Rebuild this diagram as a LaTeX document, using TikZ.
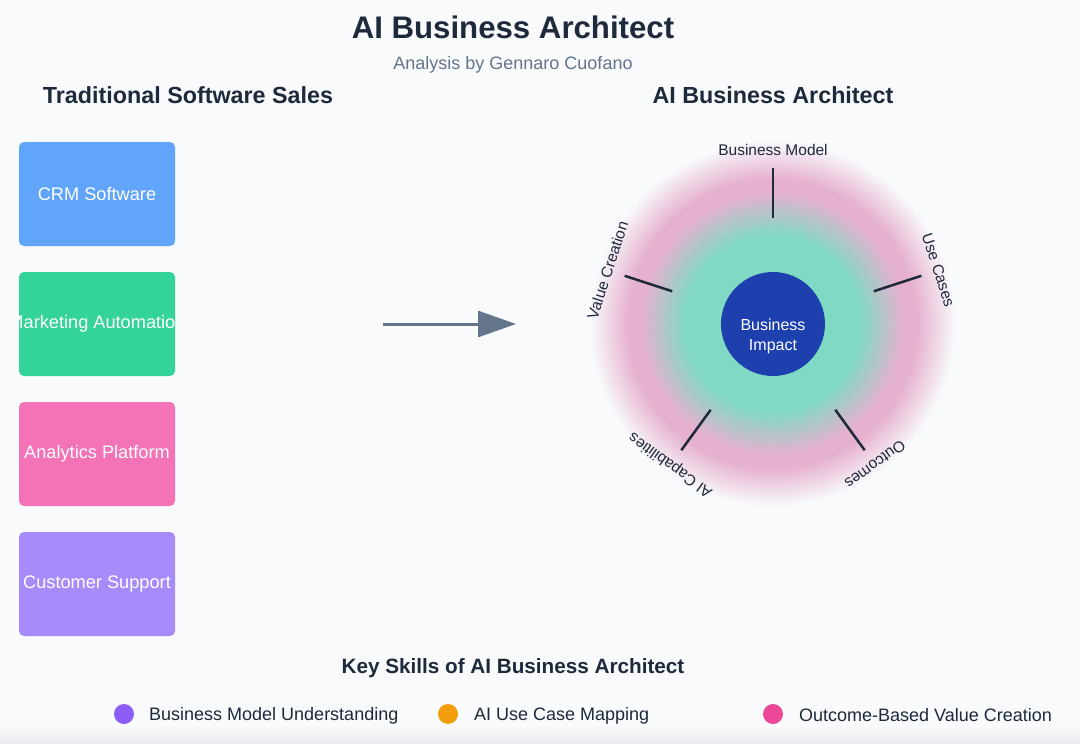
\documentclass[tikz,border=0pt]{standalone}
\usepackage{fontspec}
\setmainfont{Liberation Sans}
\usetikzlibrary{calc,arrows.meta}
\definecolor{bg}{HTML}{F8FAFC}
\definecolor{ink}{HTML}{1E293B}
\definecolor{slate}{HTML}{64748B}
\definecolor{boxblue}{HTML}{60A5FA}
\definecolor{boxgreen}{HTML}{34D399}
\definecolor{boxpink}{HTML}{F472B6}
\definecolor{boxpurple}{HTML}{A78BFA}
\definecolor{glowgreen}{HTML}{80DAC3}
\definecolor{glowpink}{HTML}{E6B1CF}
\definecolor{core}{HTML}{1E40AF}
\definecolor{dotpurple}{HTML}{8B5CF6}
\definecolor{dotorange}{HTML}{F59E0B}
\definecolor{dotpink}{HTML}{EC4899}
\definecolor{bottomgray}{HTML}{E9EBEE}
\begin{document}
\begin{tikzpicture}[x=1pt,y=-1pt,
  toolbox/.style={rounded corners=5pt, minimum width=156pt, minimum height=104pt, inner sep=0pt},
  boxtext/.style={text=white, font=\fontsize{18.2}{21}\selectfont},
  spoke/.style={draw=ink, line width=2.5pt},
  ringlabel/.style={text=ink, font=\fontsize{15.5}{18}\selectfont, inner sep=0pt},
  legtext/.style={text=ink, font=\fontsize{18}{21}\selectfont, anchor=west, inner sep=0pt},
  legdot/.style={circle, minimum size=20pt, inner sep=0pt}]
\useasboundingbox (0,0) rectangle (1080,744);
\fill[bg] (0,0) rectangle (1080,744);
\shade[top color=bg, bottom color=bottomgray] (0,726) rectangle (1080,744);

% titles
\node[text=ink, font=\bfseries\fontsize{31.2}{36}\selectfont] (title) at (513,27) {AI Business Architect};
\node[text=slate, font=\fontsize{18}{21}\selectfont] (subtitle) at (513,64.5) {Analysis by Gennaro Cuofano};
\node[text=ink, font=\bfseries\fontsize{23.3}{27}\selectfont] (lefthead) at (188,95) {Traditional Software Sales};
\node[text=ink, font=\bfseries\fontsize{23.3}{27}\selectfont] (righthead) at (773,95) {AI Business Architect};

% left boxes
\node[toolbox, fill=boxblue] (crm) at (97,194) {};
\node[boxtext] (crmtext) at (crm.center) {CRM Software};
\node[toolbox, fill=boxgreen] (mkt) at (97,324) {};
\begin{scope}
  \clip[rounded corners=5pt] (mkt.south west) rectangle (mkt.north east);
  \node[boxtext] (mkttext) at (mkt.center) {Marketing Automation};
\end{scope}
\node[toolbox, fill=boxpink] (ana) at (97,454) {};
\node[boxtext] (anatext) at (ana.center) {Analytics Platform};
\node[toolbox, fill=boxpurple] (sup) at (97,584) {};
\node[boxtext] (suptext) at (sup.center) {Customer Support};

% arrow
\coordinate (arrS) at (383,324);
\coordinate (arrE) at (516,324);
\draw[line width=3pt, slate, -{Triangle[length=38pt,width=26pt]}] (arrS) -- (arrE);

% glow
\coordinate (C) at (773,324);
\foreach \i in {0,...,183}{
  \pgfmathsetmacro{\r}{184-\i}
  \pgfmathtruncatemacro{\a}{min(100,max(0,(183-\r)/38*100))}
  \pgfmathtruncatemacro{\b}{min(100,max(0,(132-\r)/44*100))}
  \colorlet{tmpmix}{glowpink!\a!bg}
  \fill[glowgreen!\b!tmpmix] (C) circle[radius=\r pt];
}

% spokes and labels
\foreach \ang/\nm/\txt in {90/bm/Business Model, 18/uc/Use Cases, -54/oc/Outcomes, -126/aic/AI Capabilities, 162/vc/Value Creation}{
  \coordinate (\nm-in) at ($(C)+(\ang:106pt)$);
  \coordinate (\nm-out) at ($(C)+(\ang:156pt)$);
  \draw[spoke] (\nm-in) -- (\nm-out);
  \pgfmathsetmacro{\rot}{\ang-90}
  \node[ringlabel, rotate=\rot] (\nm-label) at ($(C)+(\ang:174pt)$) {\txt};
}

% core
\node[circle, fill=core, minimum size=104pt, inner sep=0pt] (impact) at (C) {};
\node[text=white, align=center, font=\fontsize{16}{20}\selectfont] (impacttext) at (773,336.5) {Business\\Impact};

% legend
\node[text=ink, font=\bfseries\fontsize{20.7}{24}\selectfont] (keyhead) at (513,668) {Key Skills of AI Business Architect};
\node[legdot, fill=dotpurple] (dot1) at (124,714) {};
\node[legtext] (leg1) at (149,715.5) {Business Model Understanding};
\node[legdot, fill=dotorange] (dot2) at (448,714) {};
\node[legtext] (leg2) at (474,715.5) {AI Use Case Mapping};
\node[legdot, fill=dotpink] (dot3) at (773,714) {};
\node[legtext] (leg3) at (799,715.5) {Outcome-Based Value Creation};
\end{tikzpicture}
\end{document}
